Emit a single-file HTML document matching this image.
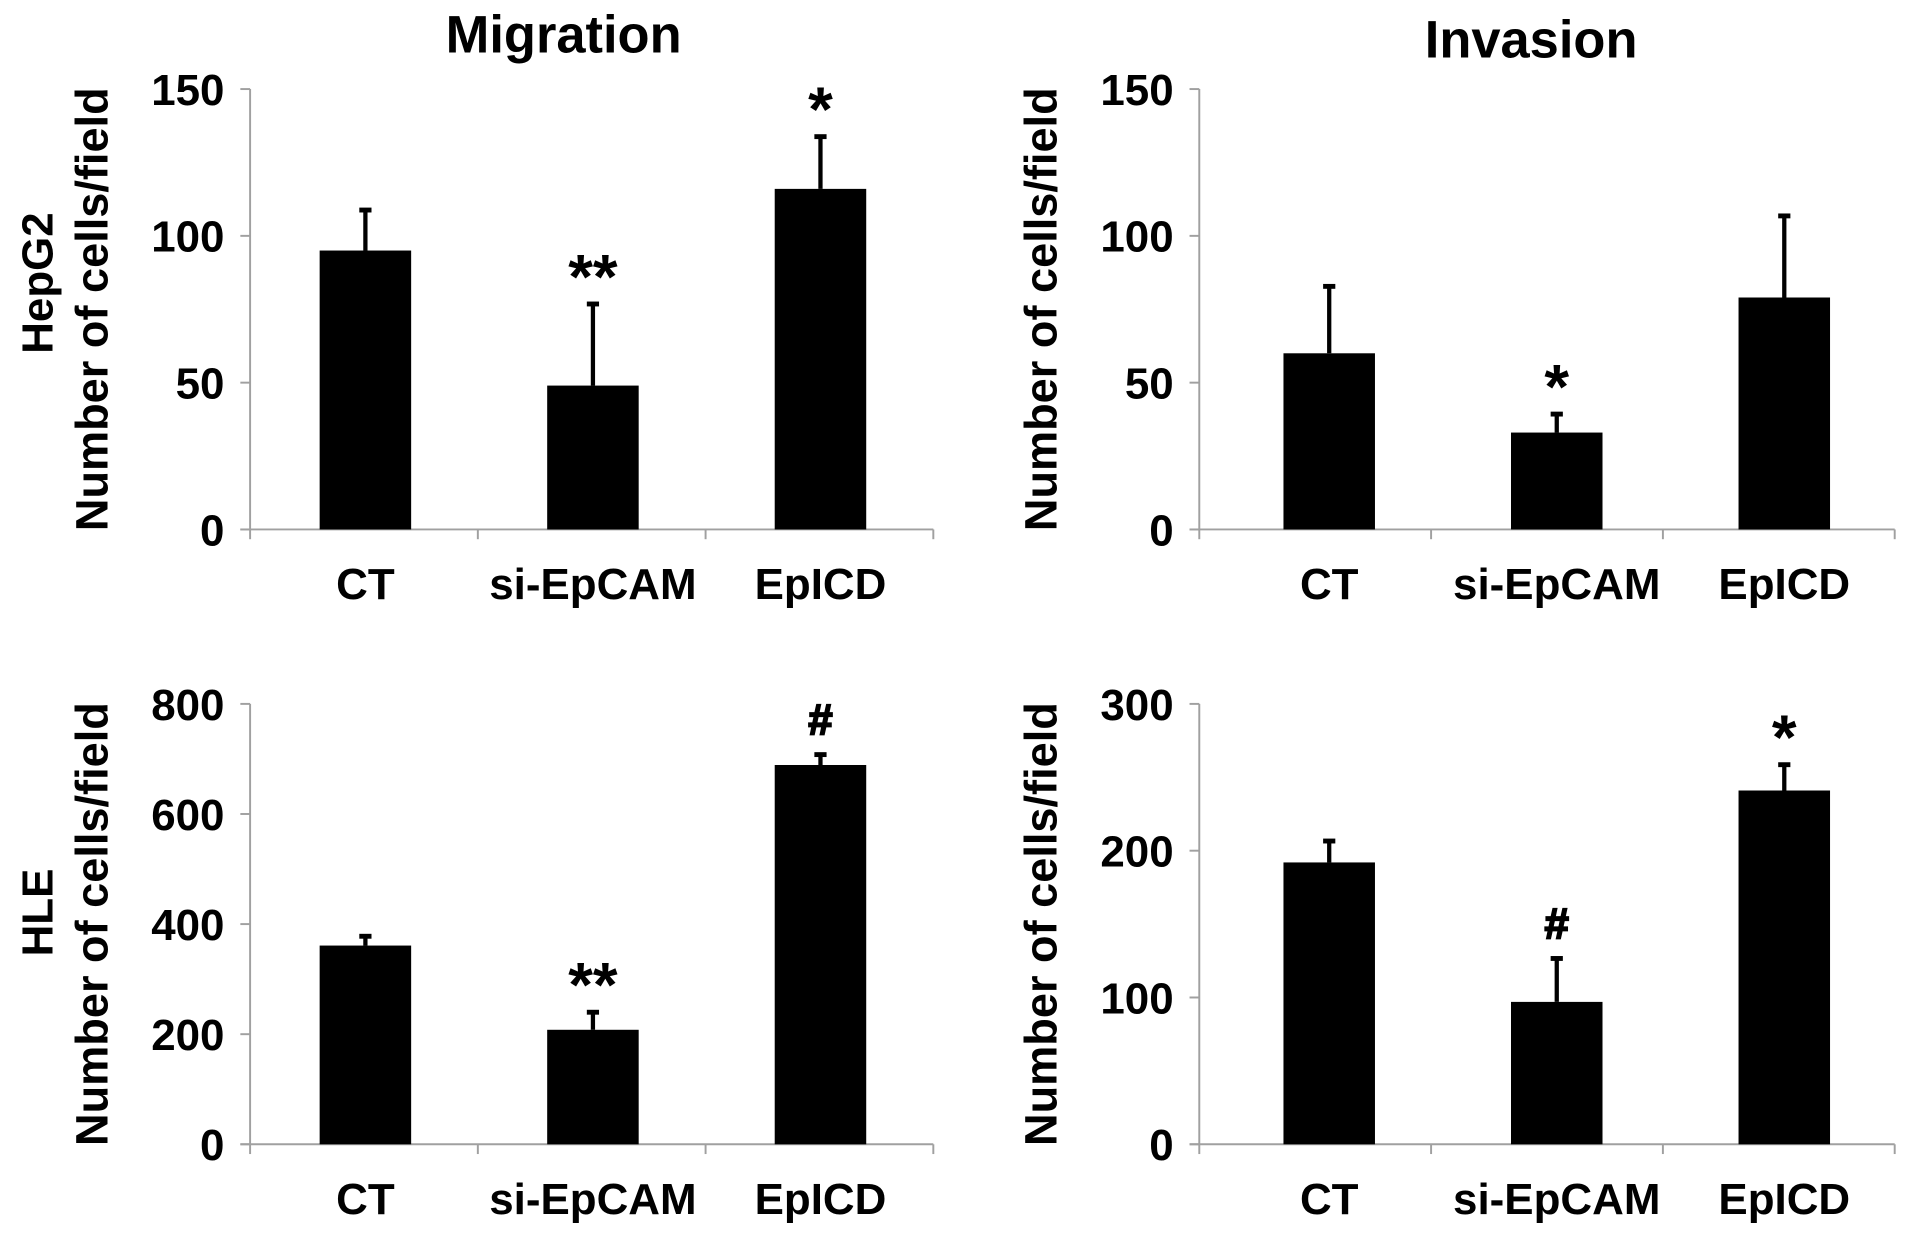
<!DOCTYPE html>
<html><head><meta charset="utf-8"><style>
html,body{margin:0;padding:0;background:#fff;}
svg{display:block;}
text{font-family:"Liberation Sans",Arial,sans-serif;font-weight:bold;fill:#000;}
</style></head><body>
<svg id="fig" width="1913" height="1237" viewBox="0 0 1568 1014" preserveAspectRatio="none" xmlns="http://www.w3.org/2000/svg">
<text x="462" y="43" font-size="43" text-anchor="middle">Migration</text>
<text x="1255" y="47" font-size="43" text-anchor="middle">Invasion</text>
<text transform="translate(43,232) rotate(-90)" font-size="36" text-anchor="middle">HepG2</text>
<text transform="translate(43,748) rotate(-90)" font-size="36" text-anchor="middle">HLE</text>
</svg>
<script>
const categories = ["CT", "si-EpCAM", "EpICD"];
const migHepG2 = [95, 49, 116];
const migHepG2Err = [109, 77, 134];
const invHepG2 = [60, 33, 79];
const invHepG2Err = [83, 39.5, 107];
const migHLE = [361, 208, 689];
const migHLEErr = [379, 241, 709];
const invHLE = [192, 97, 241];
const invHLEErr = [207, 127, 259];
const migHepG2Ticks = [0, 50, 100, 150];
const invHepG2Ticks = [0, 50, 100, 150];
const migHLETicks = [0, 200, 400, 600, 800];
const invHLETicks = [0, 100, 200, 300];
const migHepG2Marks = ["", "**", "*"];
const invHepG2Marks = ["", "*", ""];
const migHLEMarks = ["", "**", "#"];
const invHLEMarks = ["", "#", "*"];

const svg = document.getElementById('fig');
const NS = "http://www.w3.org/2000/svg";
function mk(tag, attrs, parent){
  const e = document.createElementNS(NS, tag);
  for (const k in attrs) e.setAttribute(k, attrs[k]);
  (parent||svg).appendChild(e);
  return e;
}
function panel(id, x0, x1, yTop, yBot, max, ticks, vals, errs, marks, firstCenter, step){
  const g = mk('g', {});
  
  
  const yScale = v => yBot - (v / max) * (yBot - yTop);
  const cw = (x1 - x0) / categories.length;
  const xScale = i => firstCenter + step * i;
  const axis = mk('line', {x1:x0, y1:yTop, x2:x0, y2:yBot, stroke:'#a0a0a0', 'stroke-width':1.6}, g);
  
  
  const xaxis = mk('line', {x1:x0-8, y1:yBot, x2:x1, y2:yBot, stroke:'#a0a0a0', 'stroke-width':1.6}, g);
  
  
  ticks.forEach(t => {
    const y = yScale(t);
    mk('line', {x1:x0-8, y1:y, x2:x0, y2:y, stroke:'#a0a0a0', 'stroke-width':1.6}, g);
    const tl = mk('text', {x:x0-21, y:y+13, 'font-size':36, 'text-anchor':'end'}, g);
    tl.textContent = t;
    
    
  });
  for (let i = 0; i <= categories.length; i++){
    const x = x0 + cw * i;
    mk('line', {x1:x, y1:yBot, x2:x, y2:yBot+8, stroke:'#a0a0a0', 'stroke-width':1.6}, g);
  }
  const bw = 75;
  categories.forEach((c, i) => {
    const cx = xScale(i);
    const yv = yScale(vals[i]), ye = yScale(errs[i]);
    const el = mk('line', {x1:cx, y1:yv, x2:cx, y2:ye+1, stroke:'#000', 'stroke-width':3.5}, g);
    
    
    mk('rect', {x:cx-5, y:ye-1.5, width:10, height:4, fill:'#000'}, g);
    const r = mk('rect', {x:cx-bw/2, y:yv, width:bw, height:yBot-yv, fill:'#000'}, g);
    
    
    const lab = mk('text', {x:cx, y:yBot+57, 'font-size':36, 'text-anchor':'middle'}, g);
    lab.textContent = c;
    
    
    if (marks[i]){
      const isHash = marks[i] === '#';
      const m = mk('text', {x:cx, y: isHash ? ye-16 : ye-4, 'font-size': isHash ? 36 : 52, 'text-anchor':'middle'}, g);
      m.textContent = marks[i];
      if (isHash) m.setAttribute('stroke', '#000'), m.setAttribute('stroke-width', '1.5');
      
      
    }
  });
  const tx = x0 - 117, ty = (yTop + yBot) / 2;
  const yt = mk('text', {transform:'translate(' + tx + ',' + ty + ') rotate(-90)', 'font-size':37, 'text-anchor':'middle'}, g);
  yt.textContent = 'Number of cells/field';
  
  
}
panel('migration-hepg2', 205, 765, 73, 434, 150, migHepG2Ticks, migHepG2, migHepG2Err, migHepG2Marks, 299.5, 186.5);
panel('invasion-hepg2', 983, 1553, 73, 434, 150, invHepG2Ticks, invHepG2, invHepG2Err, invHepG2Marks, 1089.5, 186.5);
panel('migration-hle', 205, 765, 577, 938, 800, migHLETicks, migHLE, migHLEErr, migHLEMarks, 299.5, 186.5);
panel('invasion-hle', 983, 1553, 577, 938, 300, invHLETicks, invHLE, invHLEErr, invHLEMarks, 1089.5, 186.5);
</script>
</body></html>
